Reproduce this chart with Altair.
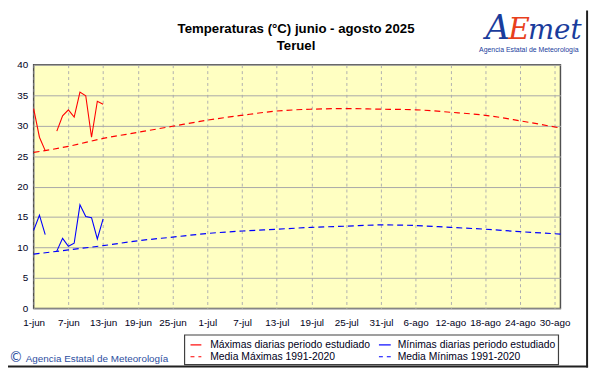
import altair as alt
import pandas as pd

# ---------------- data ----------------
obs_dates = ["2025-06-01", "2025-06-02", "2025-06-03", "2025-06-04", "2025-06-05",
             "2025-06-06", "2025-06-07", "2025-06-08", "2025-06-09", "2025-06-10",
             "2025-06-11", "2025-06-12", "2025-06-13"]
max_obs = [32.8, 28.1, 25.9, None, 29.1, 31.6, 32.6, 31.4, 35.5, 34.9, 28.1, 34.0, 33.5]
min_obs = [12.8, 15.3, 12.1, None, 9.4, 11.5, 10.2, 10.7, 17.0, 15.1, 14.9, 11.4, 14.7]

norm_dates = ["2025-06-01", "2025-06-07", "2025-06-13", "2025-06-19", "2025-06-25",
              "2025-07-01", "2025-07-07", "2025-07-13", "2025-07-19", "2025-07-25",
              "2025-07-31", "2025-08-06", "2025-08-12", "2025-08-18", "2025-08-24",
              "2025-08-31"]
max_norm = [25.6, 26.6, 27.9, 28.9, 29.9, 30.9, 31.7, 32.4, 32.7, 32.8,
            32.7, 32.6, 32.2, 31.7, 30.8, 29.6]
min_norm = [8.9, 9.6, 10.3, 11.1, 11.7, 12.3, 12.7, 13.0, 13.3, 13.5,
            13.7, 13.6, 13.3, 13.0, 12.6, 12.2]

tick_dates = ["2025-06-01", "2025-06-07", "2025-06-13", "2025-06-19", "2025-06-25",
              "2025-07-01", "2025-07-07", "2025-07-13", "2025-07-19", "2025-07-25",
              "2025-07-31", "2025-08-06", "2025-08-12", "2025-08-18", "2025-08-24",
              "2025-08-30"]
month_abbr = ["ene", "feb", "mar", "abr", "may", "jun", "jul", "ago", "sep", "oct", "nov", "dic"]
y_ticks = [0, 5, 10, 15, 20, 25, 30, 35, 40]

title_1 = "Temperaturas (°C) junio - agosto 2025"
title_2 = "Teruel"
legend_labels = ["Máximas diarias periodo estudiado", "Media Máximas 1991-2020",
                 "Mínimas diarias periodo estudiado", "Media Mínimas 1991-2020"]
credit = "Agencia Estatal de Meteorología"

# ---------------- frames ----------------
obs = pd.DataFrame({"date": obs_dates, "tmax": max_obs, "tmin": min_obs})
obs["seg"] = (obs["date"] > "2025-06-04").astype(int)
norm = pd.DataFrame({"date": norm_dates, "tmax": max_norm, "tmin": min_norm})
one = pd.DataFrame({"a": [0]})

W, H = 534, 247
FONT = "Liberation Sans"

def dt(s):
    y, m, d = s.split("-")
    return alt.DateTime(year=int(y), month=int(m), date=int(d), utc=True)

xscale = alt.Scale(type="utc", domain=[dt("2025-06-01"), dt("2025-08-31")])
yscale = alt.Scale(domain=[0, 40])

label_expr = ("utcdate(datum.value) + '-' + " + str(month_abbr) + "[utcmonth(datum.value)]")

x_axis = alt.Axis(values=[dt(s) for s in tick_dates], labelExpr=label_expr, title=None,
                  grid=True, gridDash=[3, 3], gridColor="#b0b0b0", gridWidth=1,
                  ticks=False, domain=False, labelFont=FONT, labelFontSize=10,
                  labelColor="#000020", labelPadding=9, labelFlush=False,
                  labelOverlap=False)
y_axis = alt.Axis(values=y_ticks, title=None, grid=True, gridColor="#a8a8a8", gridWidth=1,
                  ticks=False, domain=False, labelFont=FONT, labelFontSize=10,
                  labelColor="#000020", labelPadding=6, labelOverlap=False)

def X():
    return alt.X("date:T", scale=xscale, axis=x_axis)

def Y(field):
    return alt.Y(field, scale=yscale, axis=y_axis)

base_obs = alt.Chart(obs).transform_filter("isValid(datum.tmax)")

max_norm_line = alt.Chart(norm).mark_line(color="#ff0000", strokeWidth=1.2,
                                          strokeDash=[6, 4], interpolate="monotone").encode(
    x=X(), y=Y("tmax:Q"))
min_norm_line = alt.Chart(norm).mark_line(color="#0000ff", strokeWidth=1.2,
                                          strokeDash=[6, 4], interpolate="monotone").encode(
    x=X(), y=Y("tmin:Q"))
max_line = base_obs.mark_line(color="#ff0000", strokeWidth=1.1).encode(
    x=X(), y=Y("tmax:Q"), detail="seg:N")
min_line = base_obs.mark_line(color="#0000ff", strokeWidth=1.1).encode(
    x=X(), y=Y("tmin:Q"), detail="seg:N")

# ---------------- decorations (pixel positions relative to plot) ----------------
deco = alt.Chart(one)

titles = [
    deco.mark_text(text=title_1, font=FONT, fontSize=13.4, fontWeight="bold", color="#000000",
                   align="center", baseline="middle").encode(x=alt.value(266), y=alt.value(-36)),
    deco.mark_text(text=title_2, font=FONT, fontSize=13.4, fontWeight="bold", color="#000000",
                   align="center", baseline="middle").encode(x=alt.value(266), y=alt.value(-19)),
]

logo = [
    deco.mark_text(text="A", font="DejaVu Serif", fontSize=34, fontStyle="italic", color="#1a3c9c",
                   align="left", baseline="alphabetic").encode(x=alt.value(458), y=alt.value(-26)),
    deco.mark_text(text="E", font="DejaVu Serif", fontSize=30, fontStyle="italic", color="#e8401c",
                   align="left", baseline="alphabetic").encode(x=alt.value(481), y=alt.value(-26)),
    deco.mark_text(text="met", font="DejaVu Serif", fontSize=28, fontStyle="italic", color="#1a3c9c",
                   align="left", baseline="alphabetic").encode(x=alt.value(501), y=alt.value(-26)),
    deco.mark_text(text="Agencia Estatal de Meteorología", font=FONT, fontSize=7, color="#1a3c9c",
                   align="center", baseline="middle").encode(x=alt.value(502), y=alt.value(-15)),
]

legend_box = deco.mark_rect(fill="#ffffff", stroke="#404040", strokeWidth=1.2).encode(
    x=alt.value(153), x2=alt.value(532), y=alt.value(274), y2=alt.value(304))

def sample(x0, x1, yv, color, dash):
    kw = dict(color=color, strokeWidth=1.2)
    if dash:
        kw["strokeDash"] = [4, 4]
    return deco.mark_rule(**kw).encode(x=alt.value(x0), x2=alt.value(x1), y=alt.value(yv))

def ltext(txt, xv, yv):
    return deco.mark_text(text=txt, font=FONT, fontSize=10.5, color="#000020", align="left",
                          baseline="middle").encode(x=alt.value(xv), y=alt.value(yv))

legend = [
    legend_box,
    sample(159, 170, 284, "#ff0000", False), ltext(legend_labels[0], 179, 284),
    sample(159, 170, 296, "#ff0000", True), ltext(legend_labels[1], 179, 296),
    sample(350, 362, 284, "#0000ff", False), ltext(legend_labels[2], 369, 284),
    sample(350, 362, 296, "#0000ff", True), ltext(legend_labels[3], 369, 296),
]

credit_marks = [
    deco.mark_text(text="©", font="DejaVu Sans", fontSize=14, color="#2c4ea0", align="center",
                   baseline="middle").encode(x=alt.value(-18), y=alt.value(297)),
    deco.mark_text(text=credit, font=FONT, fontSize=10, color="#2c4ea0", align="left",
                   baseline="middle").encode(x=alt.value(-8), y=alt.value(298)),
]

frame = [
    deco.mark_rule(color="#202020", strokeWidth=2).encode(
        x=alt.value(561), y=alt.value(-55), y2=alt.value(307)),
    deco.mark_rule(color="#202020", strokeWidth=2).encode(
        x=alt.value(-26), x2=alt.value(562), y=alt.value(306)),
]

chart = alt.layer(
    max_norm_line, min_norm_line, max_line, min_line,
    *titles, *logo, *legend, *credit_marks, *frame,
).properties(
    width=W, height=H,
    autosize=alt.AutoSizeParams(type="none"),
    padding={"left": 26, "top": 55, "right": 33, "bottom": 64},
    background="#ffffff",
).configure_view(
    fill="#ffffc2", stroke="#505050", strokeWidth=1.5
)

chart.save("out.html", embed_options={"renderer": "svg", "actions": False})
